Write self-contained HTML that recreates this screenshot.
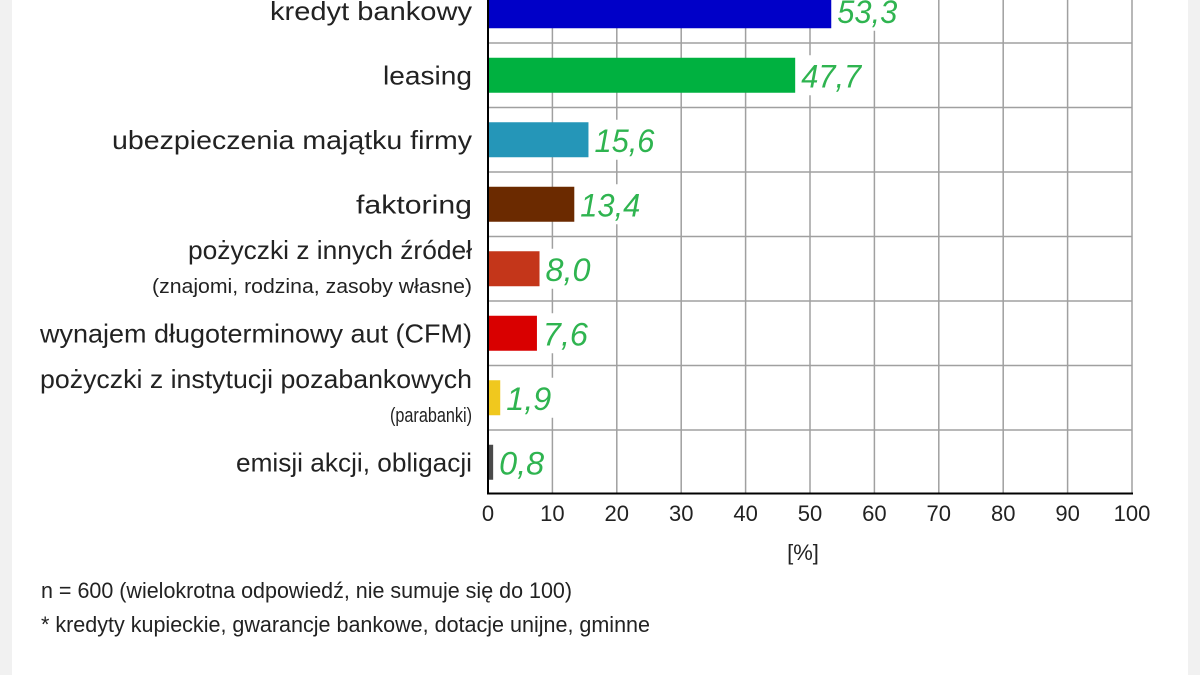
<!DOCTYPE html>
<html><head><meta charset="utf-8"><style>
html,body{margin:0;padding:0;background:#fff}
svg{display:block}
text{font-family:"Liberation Sans",sans-serif}
</style></head><body>
<svg id="chart" width="1200" height="675" viewBox="0 0 1200 675">
<rect x="0" y="0" width="1200" height="675" fill="#fff"/>
<rect x="0" y="0" width="12" height="675" fill="#f1f1f1"/>
<rect x="1188" y="0" width="12" height="675" fill="#f1f1f1"/>
<g id="grid"></g>
<g id="bars"></g>
<g id="cats"></g>
<g id="ticks"></g>
<line x1="488" y1="-5" x2="488" y2="494" stroke="#000" stroke-width="2"/>
<line x1="487" y1="493.5" x2="1133" y2="493.5" stroke="#000" stroke-width="2"/>
<text x="803" y="560" font-size="22" fill="#222" text-anchor="middle">[%]</text>
<text x="41" y="598" font-size="22" fill="#222" textLength="531" lengthAdjust="spacingAndGlyphs">n = 600 (wielokrotna odpowiedź, nie sumuje się do 100)</text>
<text x="41" y="632" font-size="22" fill="#222" textLength="609" lengthAdjust="spacingAndGlyphs">* kredyty kupieckie, gwarancje bankowe, dotacje unijne, gminne</text>
</svg>
<script>
const categories = ["kredyt bankowy","leasing","ubezpieczenia majątku firmy","faktoring","pożyczki z innych źródeł","wynajem długoterminowy aut (CFM)","pożyczki z instytucji pozabankowych","emisji akcji, obligacji"];
const subLabels = ["","","","","(znajomi, rodzina, zasoby własne)","","(parabanki)",""];
const values = [53.3,47.7,15.6,13.4,8.0,7.6,1.9,0.8];
const valueLabels = ["53,3","47,7","15,6","13,4","8,0","7,6","1,9","0,8"];
const colors = ["#0000c8","#00b140","#2596b8","#6b2a00","#c4361a","#d90000","#f0c81e","#4a4a4a"];
const ticks = [0,10,20,30,40,50,60,70,80,90,100];
const catWidths = [202,89,360,116,284,432,432,236];
const subWidths = [0,0,0,0,320,0,82,0];

const NS="http://www.w3.org/2000/svg";
const X0=488, X1=1132, topY=-21.5, band=64.5;
const xs = v => X0 + (v/100)*(X1-X0);
const yc = i => topY + band*i + band/2;
function mk(tag, attrs, parent){const e=document.createElementNS(NS,tag);for(const k in attrs)e.setAttribute(k,attrs[k]);parent.appendChild(e);return e;}
const grid=document.getElementById('grid'), bars=document.getElementById('bars'), cats=document.getElementById('cats'), tk=document.getElementById('ticks');
ticks.forEach(t=>{ if(t===0) return;
  const l=mk('line',{x1:xs(t),y1:-5,x2:xs(t),y2:494,stroke:'#a0a0a0','stroke-width':1.5},grid);
  
  
});
for(let i=1;i<categories.length;i++){
  const l=mk('line',{x1:X0,y1:topY+band*i,x2:X1,y2:topY+band*i,stroke:'#a0a0a0','stroke-width':1.5},grid);
  
  
}
ticks.forEach(t=>{
  const tx=mk('text',{x:xs(t),y:521,'font-size':22,fill:'#222','text-anchor':'middle'},tk);
  tx.textContent=t;
  
  
});
values.forEach((v,i)=>{
  const c=yc(i);
  const r=mk('rect',{x:X0,y:c-17.5,width:xs(v)-X0,height:35,fill:colors[i]},bars);
  
  
  const w=valueLabels[i].length*15;
  const bg=mk('rect',{x:xs(v)+2,y:c-20,width:w+8,height:40,fill:'#fff'},bars);
  
  
  const t=mk('text',{x:xs(v)+6,y:c+12,'font-size':32,'font-style':'italic',fill:'#2fb450',textLength:w,lengthAdjust:'spacingAndGlyphs'},bars);
  t.textContent=valueLabels[i];
  
  
  const hasSub=subLabels[i]!=="";
  const ct=mk('text',{x:472,y:hasSub?c-10:c+9,'font-size':26,fill:'#222','text-anchor':'end',textLength:catWidths[i],lengthAdjust:'spacingAndGlyphs'},cats);
  ct.textContent=categories[i];
  
  
  if(hasSub){
    const st=mk('text',{x:472,y:c+24,'font-size':20,fill:'#222','text-anchor':'end',textLength:subWidths[i],lengthAdjust:'spacingAndGlyphs'},cats);
    st.textContent=subLabels[i];
    
    
  }
});
</script>
</body></html>
